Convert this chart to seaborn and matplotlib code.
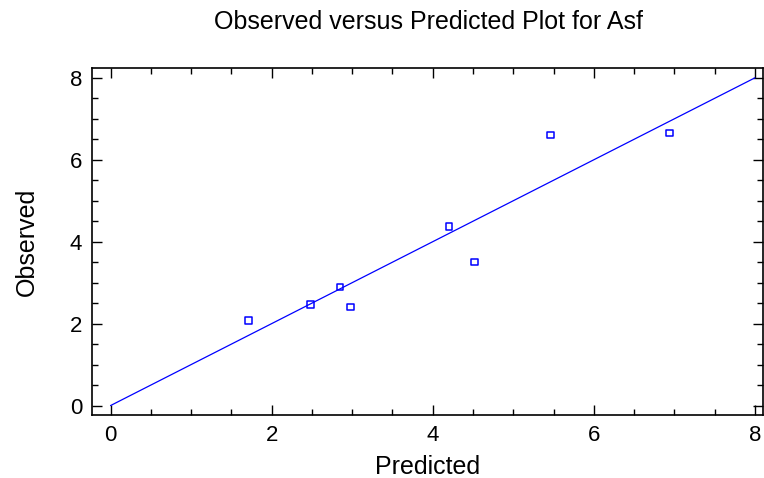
import matplotlib
matplotlib.use("Agg")
import matplotlib.pyplot as plt
import seaborn as sns
import pandas as pd
from matplotlib.ticker import MultipleLocator

predicted = [1.71, 2.48, 2.85, 2.98, 4.20, 4.52, 5.46, 6.94]
observed = [2.08, 2.47, 2.90, 2.41, 4.37, 3.50, 6.60, 6.65]
line_x = [0, 8]
line_y = [0, 8]
x_ticks = [0, 2, 4, 6, 8]
y_ticks = [0, 2, 4, 6, 8]

sns.set_style("white")
plt.rcParams['font.family'] = ['Liberation Sans', 'DejaVu Sans']
plt.rcParams['text.color'] = 'black'
plt.rcParams['axes.labelcolor'] = 'black'
plt.rcParams['xtick.color'] = 'black'
plt.rcParams['ytick.color'] = 'black'

fig = plt.figure(figsize=(7.64, 4.78), dpi=100)
ax = fig.add_axes([92/764, 1-415/478, (763-92)/764, (415-68)/478])

df = pd.DataFrame({"Predicted": predicted, "Observed": observed})
line_df = pd.DataFrame({"x": line_x, "y": line_y})

sns.lineplot(data=line_df, x="x", y="y", ax=ax, color="#0000ff", linewidth=0.9)
sns.scatterplot(data=df, x="Predicted", y="Observed", ax=ax, marker="s", s=22,
                facecolor="none", edgecolor="#0000ff", linewidth=1.1)

ax.set_xlim(-0.23, 8.1)
ax.set_ylim(-0.23, 8.24)
ax.set_xticks(x_ticks)
ax.set_yticks(y_ticks)
ax.xaxis.set_minor_locator(MultipleLocator(0.5))
ax.yaxis.set_minor_locator(MultipleLocator(0.5))
ax.tick_params(which="both", direction="in", top=True, right=True, bottom=True, left=True,
               color="black", width=1)
ax.tick_params(which="major", length=7, labelsize=16, pad=7)
ax.tick_params(which="minor", length=4)
for s in ax.spines.values():
    s.set_color("black")
    s.set_linewidth(1.2)

ax.set_xlabel("Predicted", fontsize=18, labelpad=7)
ax.set_ylabel("Observed", fontsize=18, labelpad=22)
fig.text(429/764, 1-22/478, "Observed versus Predicted Plot for Asf", ha="center", va="center", fontsize=18)

fig.savefig("out.png", dpi=100)
